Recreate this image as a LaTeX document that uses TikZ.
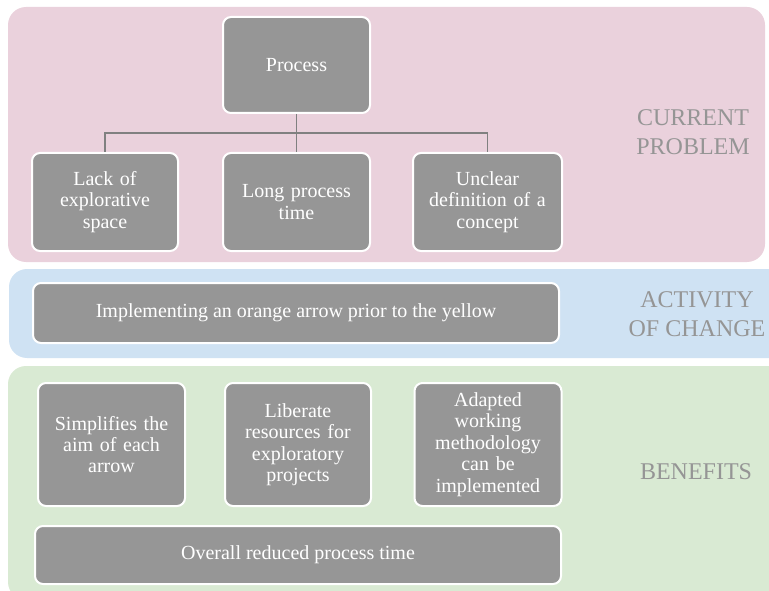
\documentclass[tikz,border=0pt]{standalone}
\usepackage{fontspec}
\setmainfont{Liberation Serif}
\definecolor{pinkbg}{HTML}{EAD1DC}
\definecolor{bluebg}{HTML}{CFE2F3}
\definecolor{greenbg}{HTML}{D9EAD3}
\definecolor{boxgray}{HTML}{969696}
\definecolor{labelgray}{HTML}{959595}
\definecolor{linegray}{HTML}{808080}
\begin{document}
\begin{tikzpicture}[x=1pt,y=-1pt,
  panel/.style={rounded corners=18pt},
  item/.style={draw=white, line width=2pt, fill=boxgray, rounded corners=8pt,
    text=white, align=center, inner sep=2pt,
    font=\fontsize{20}{21.4}\selectfont},
  tag/.style={text=labelgray, align=center, font=\fontsize{24}{29}\selectfont},
  link/.style={draw=linegray, line width=1.6pt}]
\useasboundingbox (0,0) rectangle (769,591);
\clip (0,0) rectangle (769,591);
% background bands
\fill[pinkbg, panel] (8,7) rectangle (765,262);
\fill[bluebg, panel] (9,269) rectangle (800,358);
\fill[greenbg, panel] (8,366) rectangle (800,600);
% current problem
\node[item, minimum width=147pt, minimum height=96pt] (proc) at (296.5,65) {Process};
\node[item, minimum width=146pt, minimum height=98pt, text width=130pt] (lack) at (105,202) {Lack of\\explorative\\space};
\node[item, minimum width=147pt, minimum height=98pt, text width=130pt] (long) at (296.5,202) {Long process\\time};
\node[item, minimum width=149pt, minimum height=98pt, text width=140pt] (unclear) at (487.5,202) {Unclear\\definition of a\\concept};
\coordinate (bus) at (296.5,133);
\draw[link] (proc.south) -- (bus);
\draw[link] (lack.north) |- (bus) -| (unclear.north);
\draw[link] (bus) -- (long.north);
\node[tag] (tcur) at (693,132) {CURRENT\\PROBLEM};
% activity of change
\node[item, minimum width=526pt, minimum height=60pt] (act) at (296,313) {Implementing an orange arrow prior to the yellow};
\node[tag] (tact) at (697,314) {ACTIVITY\\OF CHANGE};
% benefits
\node[item, minimum width=147pt, minimum height=123pt, text width=138pt] (simp) at (111.5,444.5) {Simplifies the\\aim of each\\arrow};
\node[item, minimum width=146pt, minimum height=123pt, text width=138pt] (lib) at (298,444.5) {Liberate\\resources for\\exploratory\\projects};
\node[item, minimum width=147pt, minimum height=123pt, text width=138pt] (adapt) at (488,444.5) {Adapted\\working\\methodology\\can be\\implemented};
\node[item, minimum width=526pt, minimum height=58pt] (over) at (298,555) {Overall reduced process time};
\node[tag] (tben) at (696,472) {BENEFITS};
\end{tikzpicture}
\end{document}
